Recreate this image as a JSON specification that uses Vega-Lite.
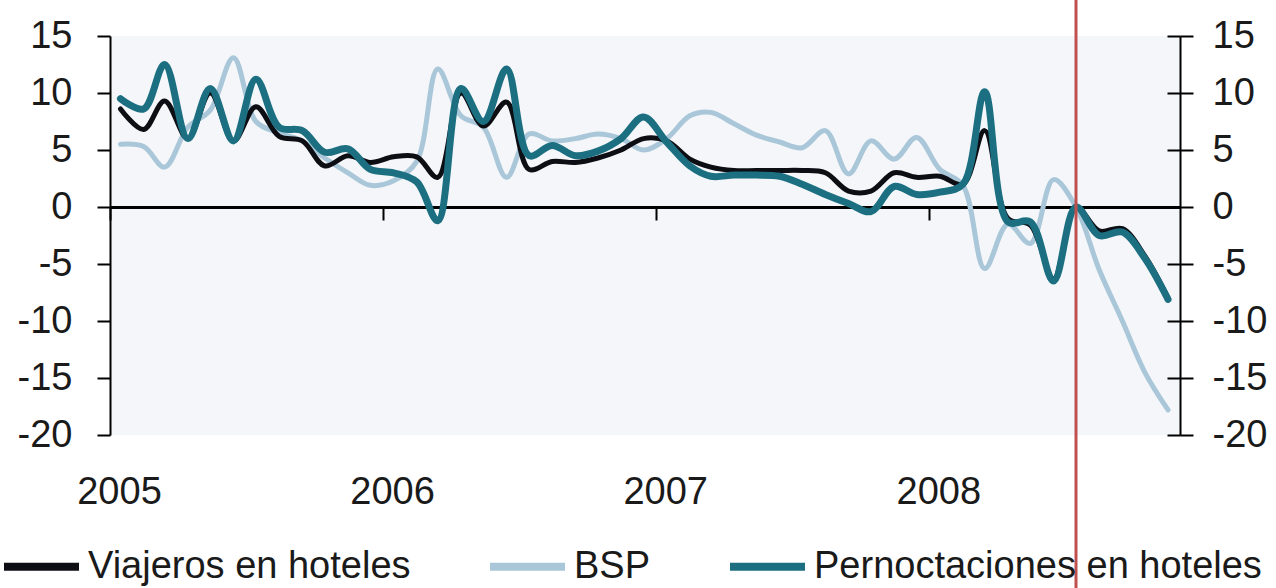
{
  "$schema": "https://vega.github.io/schema/vega-lite/v6.json",
  "width": 1070,
  "height": 399,
  "autosize": {"type": "none"},
  "padding": {"left": 110, "top": 36, "right": 96, "bottom": 153},
  "background": "#ffffff",
  "config": {
    "view": {"stroke": null, "fill": "#f4f6f9"},
    "font": "Liberation Sans"
  },
  "data": {
    "values": [
      {"date": "2005-01-15", "via": 8.6, "bsp": 5.5, "per": 9.5},
      {"date": "2005-02-15", "via": 6.8, "bsp": 5.3, "per": 8.6},
      {"date": "2005-03-15", "via": 9.3, "bsp": 3.5, "per": 12.5},
      {"date": "2005-04-15", "via": 6.0, "bsp": 7.0, "per": 6.0},
      {"date": "2005-05-15", "via": 10.0, "bsp": 8.5, "per": 10.4},
      {"date": "2005-06-15", "via": 5.8, "bsp": 13.1, "per": 5.8},
      {"date": "2005-07-15", "via": 8.8, "bsp": 7.5, "per": 11.2},
      {"date": "2005-08-15", "via": 6.2, "bsp": 6.5, "per": 7.0},
      {"date": "2005-09-15", "via": 5.8, "bsp": 5.8, "per": 6.7},
      {"date": "2005-10-15", "via": 3.6, "bsp": 4.3, "per": 4.8},
      {"date": "2005-11-15", "via": 4.5, "bsp": 3.0, "per": 5.1},
      {"date": "2005-12-15", "via": 3.9, "bsp": 1.9, "per": 3.3},
      {"date": "2006-01-15", "via": 4.4, "bsp": 2.3, "per": 3.0},
      {"date": "2006-02-15", "via": 4.4, "bsp": 4.0, "per": 2.2},
      {"date": "2006-03-15", "via": 2.6, "bsp": 12.1, "per": -1.2},
      {"date": "2006-04-15", "via": 10.0, "bsp": 8.0, "per": 10.4},
      {"date": "2006-05-15", "via": 7.1, "bsp": 7.0, "per": 7.5},
      {"date": "2006-06-15", "via": 9.2, "bsp": 2.6, "per": 12.1},
      {"date": "2006-07-15", "via": 3.3, "bsp": 6.4, "per": 4.5},
      {"date": "2006-08-15", "via": 4.0, "bsp": 5.8, "per": 5.4},
      {"date": "2006-09-15", "via": 3.9, "bsp": 6.0, "per": 4.5},
      {"date": "2006-10-15", "via": 4.3, "bsp": 6.4, "per": 4.9},
      {"date": "2006-11-15", "via": 5.0, "bsp": 6.0, "per": 6.0},
      {"date": "2006-12-15", "via": 6.0, "bsp": 5.0, "per": 7.9},
      {"date": "2007-01-15", "via": 5.8, "bsp": 6.0, "per": 5.7},
      {"date": "2007-02-15", "via": 4.2, "bsp": 8.0, "per": 3.6},
      {"date": "2007-03-15", "via": 3.5, "bsp": 8.3, "per": 2.7},
      {"date": "2007-04-15", "via": 3.2, "bsp": 7.3, "per": 2.8},
      {"date": "2007-05-15", "via": 3.2, "bsp": 6.3, "per": 2.8},
      {"date": "2007-06-15", "via": 3.2, "bsp": 5.7, "per": 2.7},
      {"date": "2007-07-15", "via": 3.2, "bsp": 5.2, "per": 2.0},
      {"date": "2007-08-15", "via": 3.0, "bsp": 6.7, "per": 1.1},
      {"date": "2007-09-15", "via": 1.4, "bsp": 2.9, "per": 0.3},
      {"date": "2007-10-15", "via": 1.4, "bsp": 5.8, "per": -0.4},
      {"date": "2007-11-15", "via": 3.0, "bsp": 4.2, "per": 1.8},
      {"date": "2007-12-15", "via": 2.6, "bsp": 6.1, "per": 1.1},
      {"date": "2008-01-15", "via": 2.7, "bsp": 3.3, "per": 1.3},
      {"date": "2008-02-15", "via": 2.0, "bsp": 1.9, "per": 2.0},
      {"date": "2008-03-15", "via": 6.7, "bsp": -5.4, "per": 10.1},
      {"date": "2008-04-15", "via": -1.0, "bsp": -1.5, "per": -1.3},
      {"date": "2008-05-15", "via": -1.6, "bsp": -3.2, "per": -1.3},
      {"date": "2008-06-15", "via": -6.3, "bsp": 2.4, "per": -6.5},
      {"date": "2008-07-15", "via": 0.0, "bsp": 0.0, "per": 0.0},
      {"date": "2008-08-15", "via": -2.1, "bsp": -5.5, "per": -2.5},
      {"date": "2008-09-15", "via": -1.9, "bsp": -10.0, "per": -2.2},
      {"date": "2008-10-15", "via": -4.3, "bsp": -14.5, "per": -4.5},
      {"date": "2008-11-15", "via": -8.0, "bsp": -17.8, "per": -8.1}
    ]
  },
  "encoding": {
    "x": {
      "field": "date",
      "type": "temporal",
      "title": null,
      "scale": {
        "type": "utc",
        "domain": [
          {"year": 2005, "month": 1, "date": 1, "utc": true},
          {"year": 2008, "month": 12, "date": 1, "utc": true}
        ]
      },
      "axis": {
        "orient": "bottom",
        "offset": -228,
        "values": [
          {"year": 2005, "month": 1, "date": 1, "utc": true},
          {"year": 2006, "month": 1, "date": 1, "utc": true},
          {"year": 2007, "month": 1, "date": 1, "utc": true},
          {"year": 2008, "month": 1, "date": 1, "utc": true}
        ],
        "format": "%Y",
        "grid": false,
        "domainColor": "#000000",
        "domainWidth": 3,
        "tickColor": "#000000",
        "tickWidth": 2,
        "tickSize": 13,
        "labelFontSize": 38,
        "labelColor": "#1a1a1a",
        "labelPadding": 253,
        "labelOffset": 9,
        "labelOverlap": false,
        "labelFlush": false,
        "labelBound": false
      }
    }
  },
  "layer": [
    {
      "mark": {"type": "line", "interpolate": "catmull-rom", "strokeWidth": 5, "strokeCap": "round"},
      "encoding": {
        "y": {
          "field": "bsp", "type": "quantitative", "title": null,
          "scale": {"domain": [-20, 15], "nice": false, "zero": false},
          "axis": {
            "orient": "left",
            "values": [-20, -15, -10, -5, 0, 5, 10, 15],
            "grid": false,
            "domainColor": "#000000", "domainWidth": 2,
            "tickColor": "#000000", "tickWidth": 2, "tickSize": 13,
            "labelFontSize": 38, "labelColor": "#1a1a1a", "labelPadding": 25,
            "labelExpr": "datum.value < 0 ? '-' + abs(datum.value) : '' + datum.value"
          }
        },
        "color": {
          "datum": "BSP", "title": null,
          "scale": {"domain": ["Viajeros en hoteles", "BSP", "Pernoctaciones en hoteles"], "range": ["#0d0d14", "#a9c7d8", "#1b6f80"]},
          "legend": {"orient": "none", "legendX": -110, "legendY": 489, "direction": "horizontal", "labelFontSize": 38, "labelColor": "#1a1a1a", "symbolType": "stroke", "symbolSize": 5625, "symbolStrokeWidth": 8, "columnPadding": 63, "labelOffset": 5, "labelLimit": 0}
        }
      }
    },
    {
      "mark": {"type": "line", "interpolate": "catmull-rom", "strokeWidth": 5, "strokeCap": "round"},
      "encoding": {
        "y": {
          "field": "via", "type": "quantitative", "title": null,
          "scale": {"domain": [-20, 15], "nice": false, "zero": false},
          "axis": {
            "orient": "right",
            "values": [-20, -15, -10, -5, 0, 5, 10, 15],
            "grid": false,
            "domainColor": "#000000", "domainWidth": 2,
            "tickColor": "#000000", "tickWidth": 2, "tickSize": 13,
            "labelFontSize": 38, "labelColor": "#1a1a1a", "labelPadding": 19,
            "labelExpr": "datum.value < 0 ? '-' + abs(datum.value) : '' + datum.value"
          }
        },
        "color": {
          "datum": "Viajeros en hoteles", "title": null,
          "scale": {"domain": ["Viajeros en hoteles", "BSP", "Pernoctaciones en hoteles"], "range": ["#0d0d14", "#a9c7d8", "#1b6f80"]},
          "legend": {"orient": "none", "legendX": -110, "legendY": 489, "direction": "horizontal", "labelFontSize": 38, "labelColor": "#1a1a1a", "symbolType": "stroke", "symbolSize": 5625, "symbolStrokeWidth": 8, "columnPadding": 63, "labelOffset": 5, "labelLimit": 0}
        }
      }
    },
    {
      "mark": {"type": "line", "interpolate": "catmull-rom", "strokeWidth": 7, "strokeCap": "round"},
      "encoding": {
        "y": {
          "field": "per", "type": "quantitative", "title": null,
          "scale": {"domain": [-20, 15], "nice": false, "zero": false},
          "axis": {
            "orient": "right",
            "offset": -13,
            "values": [-20, -15, -10, -5, 0, 5, 10, 15],
            "grid": false,
            "domain": false,
            "labels": false,
            "tickColor": "#000000", "tickWidth": 2, "tickSize": 13
          }
        },
        "color": {
          "datum": "Pernoctaciones en hoteles", "title": null,
          "scale": {"domain": ["Viajeros en hoteles", "BSP", "Pernoctaciones en hoteles"], "range": ["#0d0d14", "#a9c7d8", "#1b6f80"]},
          "legend": {"orient": "none", "legendX": -110, "legendY": 489, "direction": "horizontal", "labelFontSize": 38, "labelColor": "#1a1a1a", "symbolType": "stroke", "symbolSize": 5625, "symbolStrokeWidth": 8, "columnPadding": 63, "labelOffset": 5, "labelLimit": 0}
        }
      }
    },
    {
      "data": {"values": [{"date": "2008-07-15"}]},
      "mark": {"type": "rule", "color": "#c0504d", "strokeWidth": 3},
      "encoding": {
        "y": {"datum": 18.3, "type": "quantitative", "scale": {"domain": [-20, 15], "nice": false, "zero": false}, "axis": null},
        "y2": {"datum": -33.6}
      }
    }
  ],
  "resolve": {"axis": {"y": "independent"}}
}
